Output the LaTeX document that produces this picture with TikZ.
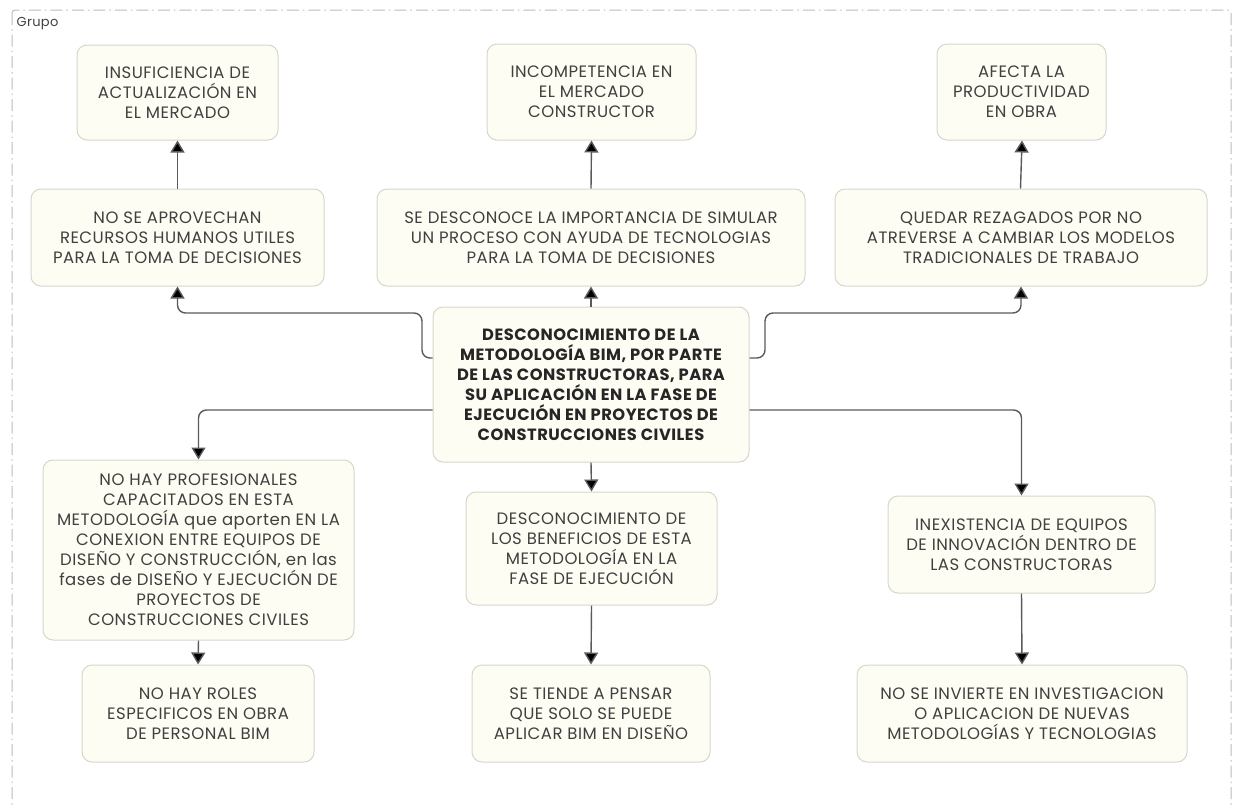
\documentclass[tikz,border=0pt]{standalone}
\usepackage{fontspec}
\setmainfont{Poppins}[LetterSpace=3]
\usetikzlibrary{arrows.meta}
\definecolor{boxfill}{HTML}{FDFDF3}
\definecolor{boxline}{HTML}{D6D6CC}
\definecolor{txt}{HTML}{404040}
\definecolor{conncol}{HTML}{5A5A5A}
\definecolor{framecol}{HTML}{BBBBBB}
\tikzset{
  box/.style={draw=boxline, line width=1pt, fill=boxfill, rounded corners=10pt, align=center, text=txt,
    font=\fontsize{16.5}{20}\selectfont, inner sep=0pt},
  mainbox/.style={box, text=black!85, font=\fontsize{16.3}{20}\selectfont\bfseries},
  conn/.style={draw=conncol, line width=1.4pt, -{Triangle[width=14pt,length=12pt,fill=black]}},
}
\begin{document}
\begin{tikzpicture}[x=1pt,y=-1pt]
\useasboundingbox (0,0) rectangle (1238,806);
\clip (0,0) rectangle (1238,806);
\draw[framecol, line width=1pt, dash pattern=on 12pt off 4pt on 1.5pt off 4pt, rounded corners=3pt] (12,10) rectangle (1231,830);
\node[anchor=west, text=txt, font=\fontsize{13}{16}\selectfont] (grp) at (13,24) {Grupo};

\node[box, minimum width=201pt, minimum height=95pt] (a1) at (177.5,92.5) {INSUFICIENCIA DE\\ACTUALIZACIÓN EN\\EL MERCADO};
\node[box, minimum width=209pt, minimum height=96pt] (a2) at (591.5,92) {INCOMPETENCIA EN\\EL MERCADO\\CONSTRUCTOR};
\node[box, minimum width=169pt, minimum height=96pt] (a3) at (1021.5,92) {AFECTA LA\\PRODUCTIVIDAD\\EN OBRA};

\node[box, minimum width=293pt, minimum height=97pt] (b1) at (177.5,237.5) {NO SE APROVECHAN\\RECURSOS HUMANOS UTILES\\PARA LA TOMA DE DECISIONES};
\node[box, minimum width=428pt, minimum height=97pt] (b2) at (591,237.5) {SE DESCONOCE LA IMPORTANCIA DE SIMULAR\\UN PROCESO CON AYUDA DE TECNOLOGIAS\\PARA LA TOMA DE DECISIONES};
\node[box, minimum width=372pt, minimum height=97pt] (b3) at (1021,237.5) {QUEDAR REZAGADOS POR NO\\ATREVERSE A CAMBIAR LOS MODELOS\\TRADICIONALES DE TRABAJO};

\node[mainbox, minimum width=316pt, minimum height=155pt] (c) at (591,384.5) {DESCONOCIMIENTO DE LA\\METODOLOGÍA BIM, POR PARTE\\DE LAS CONSTRUCTORAS, PARA\\SU APLICACIÓN EN LA FASE DE\\EJECUCIÓN EN PROYECTOS DE\\CONSTRUCCIONES CIVILES};

\node[box, minimum width=311pt, minimum height=180pt] (c1) at (198.5,550) {NO HAY PROFESIONALES\\CAPACITADOS EN ESTA\\METODOLOGÍA que aporten EN LA\\CONEXION ENTRE EQUIPOS DE\\DISEÑO Y CONSTRUCCIÓN, en las\\fases de DISEÑO Y EJECUCIÓN DE\\PROYECTOS DE\\CONSTRUCCIONES CIVILES};
\node[box, minimum width=251pt, minimum height=113pt] (c2) at (591.5,548.5) {DESCONOCIMIENTO DE\\LOS BENEFICIOS DE ESTA\\METODOLOGÍA EN LA\\FASE DE EJECUCIÓN};
\node[box, minimum width=267pt, minimum height=97pt] (c3) at (1021.5,544.5) {INEXISTENCIA DE EQUIPOS\\DE INNOVACIÓN DENTRO DE\\LAS CONSTRUCTORAS};

\node[box, minimum width=232pt, minimum height=97pt] (d1) at (198,713.5) {NO HAY ROLES\\ESPECIFICOS EN OBRA\\DE PERSONAL BIM};
\node[box, minimum width=238pt, minimum height=97pt] (d2) at (591,713.5) {SE TIENDE A PENSAR\\QUE SOLO SE PUEDE\\APLICAR BIM EN DISEÑO};
\node[box, minimum width=330pt, minimum height=97pt] (d3) at (1022,713.5) {NO SE INVIERTE EN INVESTIGACION\\O APLICACION DE NUEVAS\\METODOLOGÍAS Y TECNOLOGIAS};

% upward connectors
\draw[conn] (c.north) -- (b2.south);
\draw[conn] (b2.north) -- (a2.south);
\draw[conn] (b1.north) -- (a1.south);
\draw[conn] ([xshift=-0.5pt]b3.north) -- ([xshift=0.5pt]a3.south);
\draw[conn] ([yshift=26.5pt]c.west) [rounded corners=8pt] -- (422,358) -- (422,313) -- (177.5,313) -- (b1.south) [sharp corners];
\draw[conn] ([yshift=26.5pt]c.east) [rounded corners=8pt] -- (765,358) -- (765,313) -- (1021,313) -- (b3.south) [sharp corners];
% downward connectors
\draw[conn] ([yshift=-25.5pt]c.west) [rounded corners=8pt] -- (198.5,410) -- (c1.north) [sharp corners];
\draw[conn] ([yshift=-25.5pt]c.east) [rounded corners=8pt] -- (1021.5,410) -- (c3.north) [sharp corners];
\draw[conn] (c.south) -- (c2.north);
\draw[conn] (c1.south) -- (d1.north);
\draw[conn] (c2.south) -- (d2.north);
\draw[conn] (c3.south) -- (d3.north);
\end{tikzpicture}
\end{document}
